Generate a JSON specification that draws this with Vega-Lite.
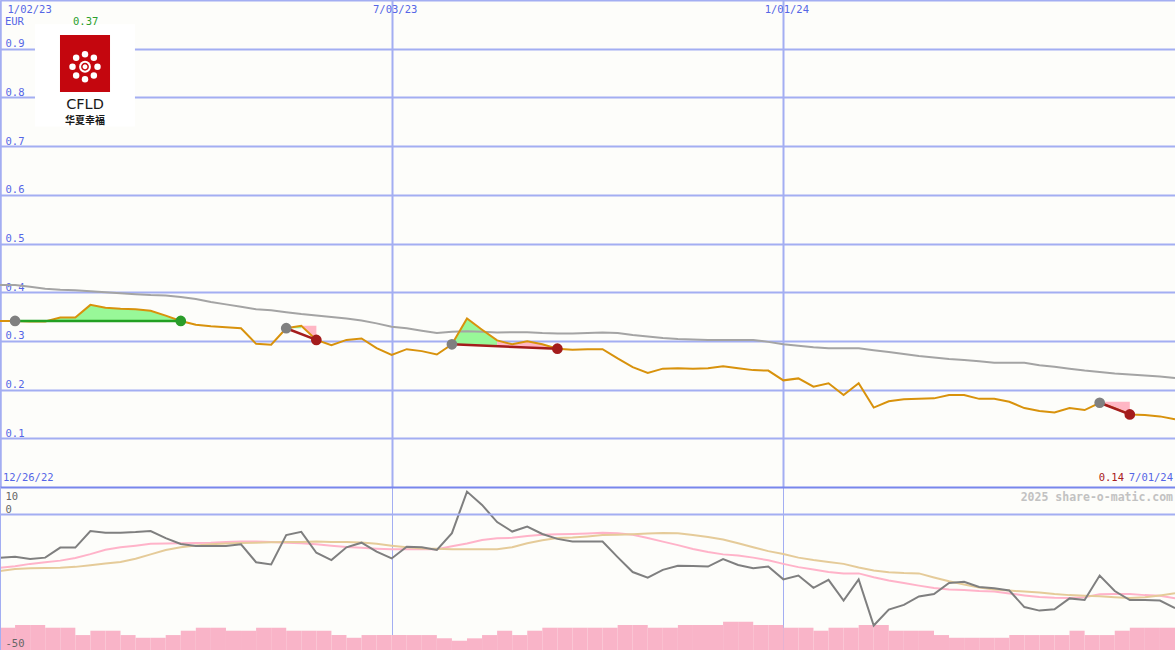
{
  "$schema": "https://vega.github.io/schema/vega-lite/v6.json",
  "background": "#fdfdfa",
  "padding": 0,
  "spacing": 0,
  "bounds": "flush",
  "config": {
    "view": {"stroke": null},
    "axis": {"labelFont": "DejaVu Sans Mono", "labelFontSize": 10.5, "title": null, "minExtent": 0, "maxExtent": 0, "titlePadding": 0, "ticks": false, "tickSize": 0}
  },
  "datasets": {
    "weekly": [
      {"d":"2023-01-02","e":"2023-01-09","p":0.341,"ma":0.415,"osc":-16.0,"pk":-19.7,"tan":-20.9,"bar":-41.8},
      {"d":"2023-01-09","e":"2023-01-16","p":0.341,"ma":0.415,"osc":-15.7,"pk":-19.2,"tan":-20.2,"bar":-40.8},
      {"d":"2023-01-16","e":"2023-01-23","p":0.340,"ma":0.411,"osc":-16.5,"pk":-18.3,"tan":-19.9,"bar":-40.8},
      {"d":"2023-01-23","e":"2023-01-30","p":0.340,"ma":0.407,"osc":-16.0,"pk":-17.7,"tan":-19.8,"bar":-41.8},
      {"d":"2023-01-30","e":"2023-02-06","p":0.348,"ma":0.405,"osc":-12.3,"pk":-17.1,"tan":-19.7,"bar":-41.8},
      {"d":"2023-02-06","e":"2023-02-13","p":0.348,"ma":0.404,"osc":-12.3,"pk":-16.1,"tan":-19.4,"bar":-44.5},
      {"d":"2023-02-13","e":"2023-02-20","p":0.374,"ma":0.402,"osc":-6.2,"pk":-14.7,"tan":-18.8,"bar":-42.9},
      {"d":"2023-02-20","e":"2023-02-27","p":0.368,"ma":0.400,"osc":-6.8,"pk":-13.1,"tan":-18.2,"bar":-42.9},
      {"d":"2023-02-27","e":"2023-03-06","p":0.366,"ma":0.398,"osc":-6.8,"pk":-12.2,"tan":-17.6,"bar":-44.5},
      {"d":"2023-03-06","e":"2023-03-13","p":0.365,"ma":0.396,"osc":-6.6,"pk":-11.6,"tan":-16.4,"bar":-45.5},
      {"d":"2023-03-13","e":"2023-03-20","p":0.362,"ma":0.394,"osc":-6.2,"pk":-10.9,"tan":-14.8,"bar":-45.5},
      {"d":"2023-03-20","e":"2023-03-27","p":0.352,"ma":0.393,"osc":-8.8,"pk":-10.8,"tan":-13.2,"bar":-44.5},
      {"d":"2023-03-27","e":"2023-04-03","p":0.341,"ma":0.390,"osc":-11.0,"pk":-10.7,"tan":-12.2,"bar":-42.9},
      {"d":"2023-04-03","e":"2023-04-10","p":0.333,"ma":0.386,"osc":-11.7,"pk":-10.6,"tan":-11.5,"bar":-41.8},
      {"d":"2023-04-10","e":"2023-04-17","p":0.330,"ma":0.380,"osc":-11.7,"pk":-10.5,"tan":-11.1,"bar":-41.8},
      {"d":"2023-04-17","e":"2023-04-24","p":0.328,"ma":0.375,"osc":-11.7,"pk":-10.2,"tan":-10.8,"bar":-42.9},
      {"d":"2023-04-24","e":"2023-05-01","p":0.326,"ma":0.370,"osc":-11.1,"pk":-10.1,"tan":-10.6,"bar":-42.9},
      {"d":"2023-05-01","e":"2023-05-08","p":0.294,"ma":0.365,"osc":-17.7,"pk":-10.1,"tan":-10.5,"bar":-41.8},
      {"d":"2023-05-08","e":"2023-05-15","p":0.292,"ma":0.363,"osc":-18.5,"pk":-10.2,"tan":-10.3,"bar":-41.8},
      {"d":"2023-05-15","e":"2023-05-22","p":0.326,"ma":0.359,"osc":-7.7,"pk":-10.5,"tan":-10.2,"bar":-42.9},
      {"d":"2023-05-22","e":"2023-05-29","p":0.331,"ma":0.355,"osc":-6.5,"pk":-10.7,"tan":-10.2,"bar":-42.9},
      {"d":"2023-05-29","e":"2023-06-05","p":0.302,"ma":0.352,"osc":-14.2,"pk":-11.1,"tan":-10.1,"bar":-42.9},
      {"d":"2023-06-05","e":"2023-06-12","p":0.291,"ma":0.349,"osc":-16.9,"pk":-11.6,"tan":-10.2,"bar":-44.5},
      {"d":"2023-06-12","e":"2023-06-19","p":0.302,"ma":0.346,"osc":-12.2,"pk":-12.1,"tan":-10.2,"bar":-45.5},
      {"d":"2023-06-19","e":"2023-06-26","p":0.305,"ma":0.342,"osc":-10.5,"pk":-12.4,"tan":-10.4,"bar":-44.5},
      {"d":"2023-06-26","e":"2023-07-03","p":0.285,"ma":0.336,"osc":-13.8,"pk":-12.7,"tan":-10.9,"bar":-44.5},
      {"d":"2023-07-03","e":"2023-07-10","p":0.271,"ma":0.329,"osc":-16.3,"pk":-12.9,"tan":-11.6,"bar":-44.5},
      {"d":"2023-07-10","e":"2023-07-17","p":0.283,"ma":0.326,"osc":-12.0,"pk":-12.9,"tan":-12.2,"bar":-44.5},
      {"d":"2023-07-17","e":"2023-07-24","p":0.279,"ma":0.321,"osc":-12.2,"pk":-12.9,"tan":-12.6,"bar":-44.5},
      {"d":"2023-07-24","e":"2023-07-31","p":0.272,"ma":0.316,"osc":-13.2,"pk":-12.9,"tan":-12.7,"bar":-45.7},
      {"d":"2023-07-31","e":"2023-08-07","p":0.293,"ma":0.319,"osc":-7.0,"pk":-11.8,"tan":-12.9,"bar":-46.6},
      {"d":"2023-08-07","e":"2023-08-14","p":0.346,"ma":0.320,"osc":8.3,"pk":-10.8,"tan":-12.9,"bar":-45.7},
      {"d":"2023-08-14","e":"2023-08-21","p":0.323,"ma":0.319,"osc":3.4,"pk":-9.5,"tan":-12.9,"bar":-44.5},
      {"d":"2023-08-21","e":"2023-08-28","p":0.301,"ma":0.317,"osc":-2.9,"pk":-8.9,"tan":-12.9,"bar":-42.9},
      {"d":"2023-08-28","e":"2023-09-04","p":0.293,"ma":0.318,"osc":-6.4,"pk":-8.7,"tan":-12.2,"bar":-44.5},
      {"d":"2023-09-04","e":"2023-09-11","p":0.299,"ma":0.318,"osc":-4.6,"pk":-8.0,"tan":-10.7,"bar":-42.9},
      {"d":"2023-09-11","e":"2023-09-18","p":0.293,"ma":0.316,"osc":-7.3,"pk":-7.6,"tan":-9.6,"bar":-41.8},
      {"d":"2023-09-18","e":"2023-09-25","p":0.284,"ma":0.315,"osc":-9.1,"pk":-7.4,"tan":-8.8,"bar":-41.8},
      {"d":"2023-09-25","e":"2023-10-02","p":0.282,"ma":0.315,"osc":-10.1,"pk":-7.3,"tan":-8.6,"bar":-41.8},
      {"d":"2023-10-02","e":"2023-10-09","p":0.283,"ma":0.316,"osc":-10.1,"pk":-7.1,"tan":-8.2,"bar":-41.8},
      {"d":"2023-10-09","e":"2023-10-16","p":0.283,"ma":0.317,"osc":-10.1,"pk":-6.8,"tan":-7.7,"bar":-41.8},
      {"d":"2023-10-16","e":"2023-10-23","p":0.264,"ma":0.316,"osc":-15.8,"pk":-7.0,"tan":-7.6,"bar":-40.8},
      {"d":"2023-10-23","e":"2023-10-30","p":0.246,"ma":0.312,"osc":-21.3,"pk":-7.6,"tan":-7.4,"bar":-40.8},
      {"d":"2023-10-30","e":"2023-11-06","p":0.234,"ma":0.309,"osc":-23.4,"pk":-8.8,"tan":-7.1,"bar":-41.8},
      {"d":"2023-11-06","e":"2023-11-13","p":0.243,"ma":0.306,"osc":-20.5,"pk":-10.1,"tan":-6.9,"bar":-41.8},
      {"d":"2023-11-13","e":"2023-11-20","p":0.244,"ma":0.304,"osc":-19.0,"pk":-11.4,"tan":-7.0,"bar":-40.8},
      {"d":"2023-11-20","e":"2023-11-27","p":0.243,"ma":0.303,"osc":-19.1,"pk":-12.8,"tan":-7.7,"bar":-40.8},
      {"d":"2023-11-27","e":"2023-12-04","p":0.244,"ma":0.302,"osc":-19.3,"pk":-13.9,"tan":-8.4,"bar":-40.8},
      {"d":"2023-12-04","e":"2023-12-11","p":0.248,"ma":0.302,"osc":-16.5,"pk":-14.8,"tan":-9.3,"bar":-39.6},
      {"d":"2023-12-11","e":"2023-12-18","p":0.244,"ma":0.302,"osc":-18.7,"pk":-15.2,"tan":-10.7,"bar":-39.6},
      {"d":"2023-12-18","e":"2023-12-25","p":0.240,"ma":0.302,"osc":-19.9,"pk":-16.0,"tan":-12.2,"bar":-40.8},
      {"d":"2023-12-25","e":"2024-01-01","p":0.239,"ma":0.298,"osc":-19.3,"pk":-17.0,"tan":-13.6,"bar":-40.8},
      {"d":"2024-01-01","e":"2024-01-08","p":0.219,"ma":0.293,"osc":-24.0,"pk":-18.3,"tan":-14.7,"bar":-41.8},
      {"d":"2024-01-08","e":"2024-01-15","p":0.223,"ma":0.290,"osc":-22.6,"pk":-19.5,"tan":-16.0,"bar":-41.8},
      {"d":"2024-01-15","e":"2024-01-22","p":0.206,"ma":0.287,"osc":-27.1,"pk":-20.4,"tan":-16.9,"bar":-42.9},
      {"d":"2024-01-22","e":"2024-01-29","p":0.213,"ma":0.285,"osc":-24.2,"pk":-21.3,"tan":-17.6,"bar":-41.8},
      {"d":"2024-01-29","e":"2024-02-05","p":0.189,"ma":0.285,"osc":-31.8,"pk":-21.8,"tan":-18.3,"bar":-41.8},
      {"d":"2024-02-05","e":"2024-02-12","p":0.213,"ma":0.285,"osc":-24.0,"pk":-21.8,"tan":-19.6,"bar":-40.8},
      {"d":"2024-02-12","e":"2024-02-19","p":0.163,"ma":0.281,"osc":-41.0,"pk":-23.2,"tan":-20.7,"bar":-40.8},
      {"d":"2024-02-19","e":"2024-02-26","p":0.176,"ma":0.277,"osc":-35.1,"pk":-24.4,"tan":-21.4,"bar":-42.9},
      {"d":"2024-02-26","e":"2024-03-04","p":0.180,"ma":0.273,"osc":-33.4,"pk":-25.3,"tan":-21.7,"bar":-42.9},
      {"d":"2024-03-04","e":"2024-03-11","p":0.181,"ma":0.269,"osc":-30.3,"pk":-26.3,"tan":-21.8,"bar":-42.9},
      {"d":"2024-03-11","e":"2024-03-18","p":0.182,"ma":0.266,"osc":-29.4,"pk":-27.2,"tan":-23.3,"bar":-44.5},
      {"d":"2024-03-18","e":"2024-03-25","p":0.189,"ma":0.263,"osc":-25.3,"pk":-27.7,"tan":-24.7,"bar":-45.5},
      {"d":"2024-03-25","e":"2024-04-01","p":0.189,"ma":0.261,"osc":-24.9,"pk":-27.9,"tan":-25.9,"bar":-45.5},
      {"d":"2024-04-01","e":"2024-04-08","p":0.181,"ma":0.258,"osc":-26.8,"pk":-28.3,"tan":-27.0,"bar":-45.5},
      {"d":"2024-04-08","e":"2024-04-15","p":0.181,"ma":0.255,"osc":-27.3,"pk":-28.5,"tan":-27.7,"bar":-45.5},
      {"d":"2024-04-15","e":"2024-04-22","p":0.175,"ma":0.255,"osc":-28.1,"pk":-29.2,"tan":-28.1,"bar":-44.5},
      {"d":"2024-04-22","e":"2024-04-29","p":0.162,"ma":0.255,"osc":-34.2,"pk":-29.9,"tan":-28.5,"bar":-44.5},
      {"d":"2024-04-29","e":"2024-05-06","p":0.156,"ma":0.250,"osc":-35.5,"pk":-30.5,"tan":-28.8,"bar":-44.5},
      {"d":"2024-05-06","e":"2024-05-13","p":0.153,"ma":0.247,"osc":-35.0,"pk":-30.8,"tan":-29.4,"bar":-44.5},
      {"d":"2024-05-13","e":"2024-05-20","p":0.162,"ma":0.243,"osc":-31.0,"pk":-30.9,"tan":-29.8,"bar":-42.9},
      {"d":"2024-05-20","e":"2024-05-27","p":0.158,"ma":0.239,"osc":-31.6,"pk":-30.6,"tan":-30.0,"bar":-44.5},
      {"d":"2024-05-27","e":"2024-06-03","p":0.173,"ma":0.236,"osc":-22.6,"pk":-29.5,"tan":-30.2,"bar":-44.5},
      {"d":"2024-06-03","e":"2024-06-10","p":0.162,"ma":0.233,"osc":-28.3,"pk":-29.4,"tan":-30.6,"bar":-42.9},
      {"d":"2024-06-10","e":"2024-06-17","p":0.149,"ma":0.231,"osc":-31.6,"pk":-29.4,"tan":-30.9,"bar":-41.8},
      {"d":"2024-06-17","e":"2024-06-24","p":0.148,"ma":0.229,"osc":-31.6,"pk":-29.8,"tan":-30.6,"bar":-41.8},
      {"d":"2024-06-24","e":"2024-07-01","p":0.145,"ma":0.227,"osc":-31.8,"pk":-30.0,"tan":-29.9,"bar":-41.8},
      {"d":"2024-07-01","e":"2024-07-08","p":0.139,"ma":0.224,"osc":-34.6,"pk":-31.0,"tan":-29.1,"bar":-41.8}
    ]
  },
  "vconcat": [
    {
      "width": 1175,
      "height": 487,
      "data": {"name": "weekly"},
      "resolve": {"scale": {"color": "independent"}},
      "encoding": {
        "x": {
          "field": "d", "type": "temporal",
          "scale": {"type": "utc", "domain": [{"year": 2023, "month": 1, "date": 2, "utc": true}, {"year": 2024, "month": 7, "date": 1, "utc": true}]},
          "axis": {
            "orient": "top",
            "values": [{"year": 2023, "month": 1, "date": 2, "utc": true}, {"year": 2023, "month": 7, "date": 3, "utc": true}, {"year": 2024, "month": 1, "date": 1, "utc": true}],
            "format": "%-m/%d/%y",
            "labelColor": "#5566e6",
            "labelPadding": -12.5,
            "labelBaseline": "alphabetic",
            "labelAlign": {"condition": {"test": "datum.value < 1673000000000", "value": "left"}, "value": "center"},
            "labelOffset": {"condition": {"test": "datum.value < 1673000000000", "value": 7}, "value": 3},
            "labelOverlap": false,
            "labelFlush": false,
            "ticks": false, "tickSize": 0,
            "domain": true, "domainColor": "#a3aef2", "domainWidth": 2,
            "grid": true, "gridColor": "#a3aef2", "gridWidth": 2
          }
        },
        "y": {
          "field": "p", "type": "quantitative",
          "scale": {"domain": [0, 1], "zero": false, "nice": false},
          "axis": {
            "orient": "left",
            "values": [0.1, 0.2, 0.3, 0.4, 0.5, 0.6, 0.7, 0.8, 0.9],
            "format": ".1f",
            "labelColor": "#5566e6",
            "labelAlign": "left",
            "labelPadding": -5,
            "labelBaseline": "alphabetic",
            "labelOffset": -2,
            "labelOverlap": false,
            "ticks": false, "tickSize": 0,
            "domain": true, "domainColor": "#a3aef2", "domainWidth": 2,
            "grid": true, "gridColor": "#a3aef2", "gridWidth": 2
          }
        }
      },
      "layer": [
        {
          "data": {"values": [{"d": "2023-01-18T06:00:00Z", "d2": "2023-03-05T17:00:00Z", "y1": 0.95, "y2": 0.74}]},
          "mark": {"type": "rect", "color": "#ffffff"},
          "encoding": {"x2": {"field": "d2"}, "y": {"field": "y1", "type": "quantitative"}, "y2": {"field": "y2"}}
        },
        {
          "data": {"values": [
            {"d":"2023-01-23","top":0.341,"base":0.341,"g":"b1","k":"gain"},
            {"d":"2023-01-30","top":0.348,"base":0.341,"g":"b1","k":"gain"},
            {"d":"2023-02-06","top":0.348,"base":0.341,"g":"b1","k":"gain"},
            {"d":"2023-02-13","top":0.374,"base":0.341,"g":"b1","k":"gain"},
            {"d":"2023-02-20","top":0.368,"base":0.341,"g":"b1","k":"gain"},
            {"d":"2023-02-27","top":0.366,"base":0.341,"g":"b1","k":"gain"},
            {"d":"2023-03-06","top":0.365,"base":0.341,"g":"b1","k":"gain"},
            {"d":"2023-03-13","top":0.362,"base":0.341,"g":"b1","k":"gain"},
            {"d":"2023-03-20","top":0.352,"base":0.341,"g":"b1","k":"gain"},
            {"d":"2023-03-27","top":0.341,"base":0.341,"g":"b1","k":"gain"},
            {"d":"2023-05-15","top":0.326,"base":0.326,"g":"b2","k":"gain"},
            {"d":"2023-05-22","top":0.331,"base":0.326,"g":"b2","k":"gain"},
            {"d":"2023-05-22","top":0.331,"base":0.331,"g":"s2","k":"loss"},
            {"d":"2023-05-29","top":0.302,"base":0.331,"g":"s2","k":"loss"},
            {"d":"2023-07-31","top":0.293,"base":0.293,"g":"b3","k":"gain"},
            {"d":"2023-08-07","top":0.346,"base":0.2917,"g":"b3","k":"gain"},
            {"d":"2023-08-14","top":0.323,"base":0.2904,"g":"b3","k":"gain"},
            {"d":"2023-08-21","top":0.301,"base":0.2891,"g":"b3","k":"gain"},
            {"d":"2023-08-21","top":0.301,"base":0.2891,"g":"s3","k":"loss"},
            {"d":"2023-08-28","top":0.293,"base":0.2878,"g":"s3","k":"loss"},
            {"d":"2023-09-04","top":0.299,"base":0.2865,"g":"s3","k":"loss"},
            {"d":"2023-09-11","top":0.293,"base":0.2852,"g":"s3","k":"loss"},
            {"d":"2023-09-18","top":0.284,"base":0.284,"g":"s3","k":"loss"},
            {"d":"2024-05-27","top":0.173,"base":0.175,"g":"s4","k":"loss"},
            {"d":"2024-06-03","top":0.162,"base":0.175,"g":"s4","k":"loss"},
            {"d":"2024-06-10","top":0.149,"base":0.175,"g":"s4","k":"loss"}
          ]},
          "mark": {"type": "area", "opacity": 1, "clip": true},
          "encoding": {
            "y": {"field": "top", "type": "quantitative"},
            "y2": {"field": "base"},
            "detail": {"field": "g"},
            "color": {"field": "k", "type": "nominal", "scale": {"domain": ["gain", "loss"], "range": ["#98f898", "#ffb6c4"]}, "legend": null}
          }
        },
        {
          "mark": {"type": "line", "color": "#a4a4a4", "strokeWidth": 2, "clip": true},
          "encoding": {"y": {"field": "ma", "type": "quantitative"}}
        },
        {
          "mark": {"type": "line", "color": "#d8920c", "strokeWidth": 2, "clip": true}
        },
        {
          "data": {"values": [
            {"d":"2023-01-09","v":0.341,"t":"t1","k":"win"},{"d":"2023-03-27","v":0.341,"t":"t1","k":"win"},
            {"d":"2023-05-15","v":0.326,"t":"t2","k":"loss"},{"d":"2023-05-29","v":0.302,"t":"t2","k":"loss"},
            {"d":"2023-07-31","v":0.293,"t":"t3","k":"loss"},{"d":"2023-09-18","v":0.284,"t":"t3","k":"loss"},
            {"d":"2024-05-27","v":0.173,"t":"t4","k":"loss"},{"d":"2024-06-10","v":0.149,"t":"t4","k":"loss"}
          ]},
          "mark": {"type": "line", "strokeWidth": 2.5, "clip": true},
          "encoding": {
            "y": {"field": "v", "type": "quantitative"},
            "detail": {"field": "t"},
            "color": {"field": "k", "type": "nominal", "scale": {"domain": ["win", "loss"], "range": ["#22a022", "#a41c1c"]}, "legend": null}
          }
        },
        {
          "data": {"values": [
            {"d":"2023-01-09","v":0.341,"r":"entry"},{"d":"2023-03-27","v":0.341,"r":"win"},
            {"d":"2023-05-15","v":0.326,"r":"entry"},{"d":"2023-05-29","v":0.302,"r":"loss"},
            {"d":"2023-07-31","v":0.293,"r":"entry"},{"d":"2023-09-18","v":0.284,"r":"loss"},
            {"d":"2024-05-27","v":0.173,"r":"entry"},{"d":"2024-06-10","v":0.149,"r":"loss"}
          ]},
          "mark": {"type": "point", "filled": true, "size": 115, "opacity": 1, "strokeWidth": 0},
          "encoding": {
            "y": {"field": "v", "type": "quantitative"},
            "color": {"field": "r", "type": "nominal", "scale": {"domain": ["entry", "win", "loss"], "range": ["#808080", "#2a9d2a", "#a41c1c"]}, "legend": null}
          }
        },
        {
          "data": {"values": [
            {"d": "2023-01-04T07:00:00Z", "v": 0.9487, "t": "EUR"},
            {"d": "2023-01-03T09:00:00Z", "v": 0.0113, "t": "12/26/22"}
          ]},
          "mark": {"type": "text", "align": "left", "baseline": "alphabetic", "color": "#5566e6", "font": "DejaVu Sans Mono", "fontSize": 10.5},
          "encoding": {"y": {"field": "v", "type": "quantitative"}, "text": {"field": "t"}}
        },
        {
          "data": {"values": [{"d": "2024-06-30T02:00:00Z", "v": 0.0113, "t": "7/01/24"}]},
          "mark": {"type": "text", "align": "right", "baseline": "alphabetic", "color": "#5566e6", "font": "DejaVu Sans Mono", "fontSize": 10.5},
          "encoding": {"y": {"field": "v", "type": "quantitative"}, "text": {"field": "t"}}
        },
        {
          "data": {"values": [{"d": "2024-06-07T07:00:00Z", "v": 0.0113, "t": "0.14"}]},
          "mark": {"type": "text", "align": "right", "baseline": "alphabetic", "color": "#a82020", "font": "DejaVu Sans Mono", "fontSize": 10.5},
          "encoding": {"y": {"field": "v", "type": "quantitative"}, "text": {"field": "t"}}
        },
        {
          "data": {"values": [{"d": "2023-02-10T19:00:00Z", "v": 0.9487, "t": "0.37"}]},
          "mark": {"type": "text", "align": "center", "baseline": "alphabetic", "color": "#2ca02c", "font": "DejaVu Sans Mono", "fontSize": 10.5},
          "encoding": {"y": {"field": "v", "type": "quantitative"}, "text": {"field": "t"}}
        },
        {
          "data": {"values": [{"d": "2023-01-29T21:00:00Z", "d2": "2023-02-22T03:00:00Z", "y1": 0.9281, "y2": 0.8111}]},
          "mark": {"type": "rect", "color": "#c4060e"},
          "encoding": {"x2": {"field": "d2"}, "y": {"field": "y1", "type": "quantitative"}, "y2": {"field": "y2"}}
        },
        {
          "data": {"values": [
            {"d": "2023-02-10T12:00:00Z", "v": 0.8887},
            {"d": "2023-02-06T09:20:00Z", "v": 0.8812},
            {"d": "2023-02-14T14:40:00Z", "v": 0.8812},
            {"d": "2023-02-04T16:30:00Z", "v": 0.8630},
            {"d": "2023-02-16T07:30:00Z", "v": 0.8630},
            {"d": "2023-02-06T09:20:00Z", "v": 0.8449},
            {"d": "2023-02-14T14:40:00Z", "v": 0.8449},
            {"d": "2023-02-10T12:00:00Z", "v": 0.8374}
          ]},
          "mark": {"type": "point", "filled": true, "size": 42, "opacity": 1, "color": "#ffffff", "strokeWidth": 0},
          "encoding": {"y": {"field": "v", "type": "quantitative"}}
        },
        {
          "data": {"values": [{"d": "2023-02-10T12:00:00Z", "v": 0.8630}]},
          "mark": {"type": "point", "filled": true, "size": 140, "opacity": 1, "color": "#ffffff", "strokeWidth": 0},
          "encoding": {"y": {"field": "v", "type": "quantitative"}}
        },
        {
          "data": {"values": [{"d": "2023-02-10T12:00:00Z", "v": 0.8630}]},
          "mark": {"type": "point", "filled": false, "size": 40, "opacity": 1, "color": "#c4060e", "strokeWidth": 1.5},
          "encoding": {"y": {"field": "v", "type": "quantitative"}}
        },
        {
          "data": {"values": [{"d": "2023-02-10T12:00:00Z", "v": 0.7772, "t": "CFLD"}]},
          "mark": {"type": "text", "align": "center", "baseline": "alphabetic", "color": "#1a1a1a", "font": "DejaVu Sans", "fontSize": 14.5},
          "encoding": {"y": {"field": "v", "type": "quantitative"}, "text": {"field": "t"}}
        },
        {
          "data": {"values": [{"d": "2023-02-10T12:00:00Z", "v": 0.7444, "t": "华夏幸福"}]},
          "mark": {"type": "text", "align": "center", "baseline": "alphabetic", "color": "#1a1a1a", "font": "Noto Sans CJK SC", "fontWeight": "bold", "fontSize": 10},
          "encoding": {"y": {"field": "v", "type": "quantitative"}, "text": {"field": "t"}}
        }
      ]
    },
    {
      "width": 1175,
      "height": 163,
      "data": {"name": "weekly"},
      "encoding": {
        "x": {
          "field": "d", "type": "temporal",
          "scale": {"type": "utc", "domain": [{"year": 2023, "month": 1, "date": 2, "utc": true}, {"year": 2024, "month": 7, "date": 1, "utc": true}]},
          "axis": {
            "orient": "top",
            "values": [{"year": 2023, "month": 1, "date": 2, "utc": true}, {"year": 2023, "month": 7, "date": 3, "utc": true}, {"year": 2024, "month": 1, "date": 1, "utc": true}],
            "labels": false,
            "ticks": false, "tickSize": 0,
            "domain": true, "domainColor": "#7886ec", "domainWidth": 2,
            "grid": true, "gridColor": "#a3aef2", "gridWidth": 1
          }
        },
        "y": {
          "field": "osc", "type": "quantitative",
          "scale": {"domain": [-50, 10], "zero": false, "nice": false},
          "axis": {
            "orient": "left",
            "values": [10, 0, -50],
            "labelExpr": "'' + datum.value",
            "labelColor": "#666666",
            "labelAlign": "left",
            "labelPadding": -5,
            "labelBaseline": "alphabetic",
            "labelOffset": {"condition": [{"test": "datum.value === 10", "value": 12}, {"test": "datum.value === 0", "value": -2}], "value": -4},
            "labelOverlap": false,
            "ticks": false, "tickSize": 0,
            "domain": true, "domainColor": "#a3aef2", "domainWidth": 1,
            "grid": true, "gridWidth": 2,
            "gridColor": {"condition": {"test": "datum.value === 0", "value": "#a3aef2"}, "value": "transparent"},
            "zindex": 1
          }
        }
      },
      "layer": [
        {
          "mark": {"type": "rect", "color": "#f9b4c8", "clip": true},
          "encoding": {"x2": {"field": "e"}, "y": {"field": "bar", "type": "quantitative"}, "y2": {"datum": -50}}
        },
        {
          "mark": {"type": "line", "color": "#ffb3c9", "strokeWidth": 2, "clip": true},
          "encoding": {"y": {"field": "pk", "type": "quantitative"}}
        },
        {
          "mark": {"type": "line", "color": "#e5cb99", "strokeWidth": 2, "clip": true},
          "encoding": {"y": {"field": "tan", "type": "quantitative"}}
        },
        {
          "mark": {"type": "line", "color": "#7f7f7f", "strokeWidth": 2, "clip": true}
        },
        {
          "data": {"values": [{"d": "2024-06-30T02:00:00Z", "v": 4.96, "t": "2025 share-o-matic.com"}]},
          "mark": {"type": "text", "align": "right", "baseline": "alphabetic", "color": "#c2c2c2", "font": "DejaVu Sans Mono", "fontWeight": "bold", "fontSize": 11.5},
          "encoding": {"y": {"field": "v", "type": "quantitative"}, "text": {"field": "t"}}
        }
      ]
    }
  ]
}
